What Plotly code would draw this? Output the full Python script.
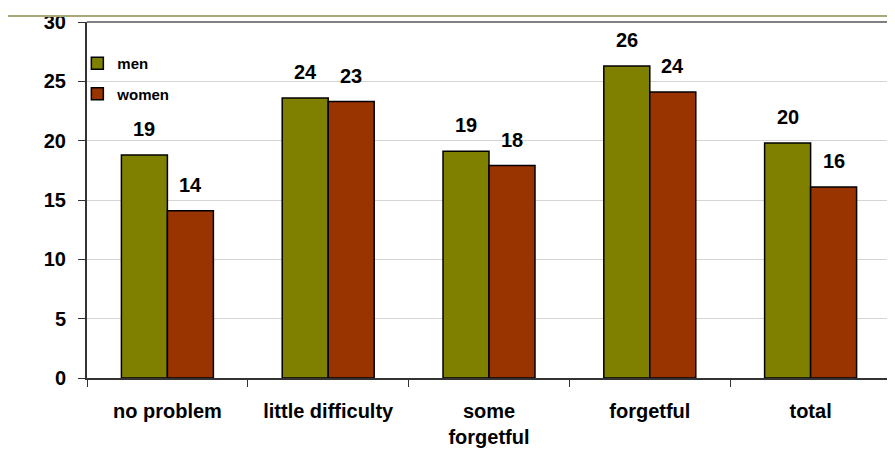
import plotly.graph_objects as go

categories = ["no problem", "little difficulty", "some<br>forgetful", "forgetful", "total"]
men = [18.8, 23.6, 19.1, 26.3, 19.8]
women = [14.1, 23.3, 17.9, 24.1, 16.1]
men_labels = ["19", "24", "19", "26", "20"]
women_labels = ["14", "23", "18", "24", "16"]
y_ticks = [0, 5, 10, 15, 20, 25, 30]

MEN_COLOR = "#808000"
WOMEN_COLOR = "#993300"
FONT = "Liberation Sans, Arial, sans-serif"

fig = go.Figure()
fig.add_trace(go.Bar(x=categories, y=men, name="men", legendgroup="m",
                     marker=dict(color=MEN_COLOR, line=dict(color="black", width=1.5))))
fig.add_trace(go.Bar(x=categories, y=women, name="women", legendgroup="w",
                     marker=dict(color=WOMEN_COLOR, line=dict(color="black", width=1.5))))

for cat, v, lab in zip(categories, men, men_labels):
    fig.add_annotation(x=cat, y=v, text="<b>%s</b>" % lab, showarrow=False,
                       xshift=-23, yshift=26, yanchor="middle",
                       font=dict(family=FONT, size=20, color="black"))
for cat, v, lab in zip(categories, women, women_labels):
    fig.add_annotation(x=cat, y=v, text="<b>%s</b>" % lab, showarrow=False,
                       xshift=23, yshift=26, yanchor="middle",
                       font=dict(family=FONT, size=20, color="black"))

# plot frame top/right (gray) and khaki header line
fig.add_shape(type="line", xref="paper", yref="paper", x0=0, x1=1, y0=1, y1=1,
              line=dict(color="#808080", width=2))
fig.add_shape(type="line", xref="paper", yref="paper", x0=1, x1=1, y0=0, y1=1,
              line=dict(color="#808080", width=2))
fig.add_shape(type="line", xref="paper", yref="paper", x0=-0.0995, x1=1.01,
              y0=1.017, y1=1.017, line=dict(color="#a8a878", width=2))

fig.update_layout(
    width=887, height=447,
    margin=dict(l=79, r=4, t=14, b=77),
    paper_bgcolor="white", plot_bgcolor="white",
    barmode="group", bargap=0.428, bargroupgap=0,
    font=dict(family=FONT, color="black"),
    showlegend=True,
    legend=dict(x=-0.012, y=0.93, xanchor="left", yanchor="top",
                bgcolor="rgba(0,0,0,0)", tracegroupgap=8,
                font=dict(family=FONT, size=15, color="black", weight="bold")),
    xaxis=dict(showgrid=False, tickson="boundaries", ticks="outside", ticklen=7,
               tickcolor="#333333", showline=True, linecolor="#333333", linewidth=2,
               tickfont=dict(family=FONT, size=20, color="black", weight="bold"),
               ticklabelstandoff=14),
    yaxis=dict(range=[0, 30], tickvals=y_ticks, showgrid=True, gridcolor="#d4d4d4",
               gridwidth=1, ticks="outside", ticklen=7, tickcolor="#333333",
               showline=True, linecolor="#333333", linewidth=2, zeroline=False,
               tickfont=dict(family=FONT, size=20, color="black", weight="bold"),
               ticklabelstandoff=8),
)

fig.write_html("out.html")
